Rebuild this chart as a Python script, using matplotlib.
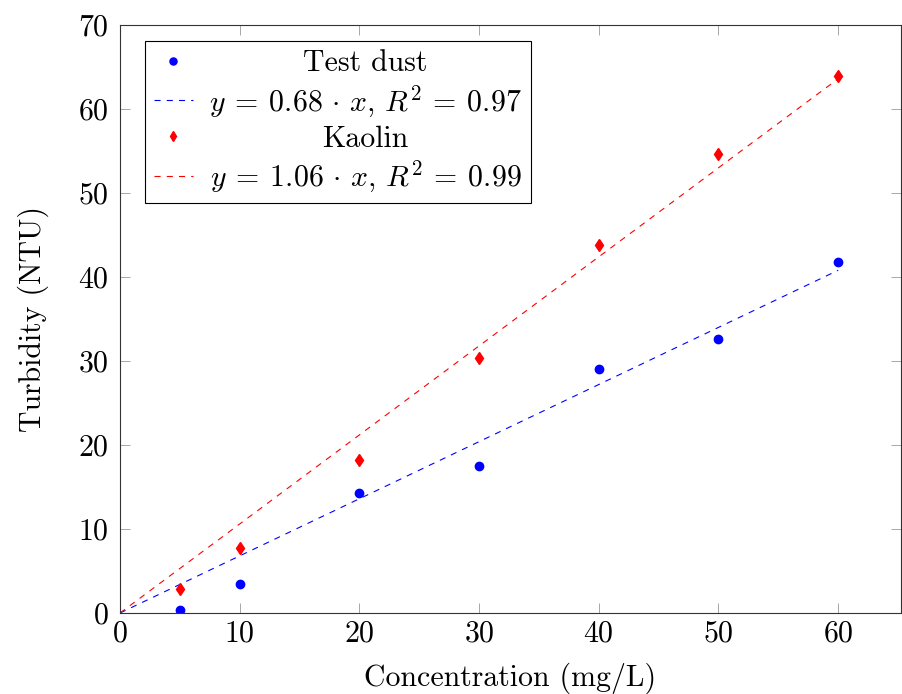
import matplotlib
matplotlib.use('Agg')
import matplotlib.pyplot as plt
from matplotlib.transforms import IdentityTransform
import numpy as np

plt.rcParams['font.family'] = 'serif'
plt.rcParams['font.serif'] = ['cmr10']
plt.rcParams['mathtext.fontset'] = 'cm'
plt.rcParams['axes.formatter.use_mathtext'] = True
plt.rcParams['font.size'] = 21.5

# measured points
conc = [5, 10, 20, 30, 40, 50, 60]
test_dust = [0.35, 3.4, 14.3, 17.5, 29.1, 32.6, 41.8]
kaolin = [2.8, 7.7, 18.2, 30.3, 43.8, 54.6, 63.9]

# linear fits through origin
fit_x = [0, 60]
slope_dust = 0.68
slope_kaolin = 1.06
label_dust = r'$y\:=\:0.68\,\cdot\,x$, $R^2\,=\:0.97$'
label_kaolin = r'$y\:=\:1.06\,\cdot\,x$, $R^2\,=\:0.99$'

fig = plt.figure(figsize=(9.03, 6.94), dpi=100)
ax = fig.add_axes([120/903, 81/694, 781/903, 588/694])

fx = np.array(fit_x)
dash = (0, (5.5, 5.5))
ax.plot(conc, test_dust, 'o', color='blue', ms=6, ls='none', label='Test dust')
ax.plot(fx, slope_dust*fx, color='blue', lw=0.8, ls=dash, label=label_dust)
ax.plot(conc, kaolin, 'd', color='red', ms=6.5, ls='none', label='Kaolin')
ax.plot(fx, slope_kaolin*fx, color='red', lw=0.8, ls=dash, label=label_kaolin)

ax.set_xlim(0, 65.25)
ax.set_ylim(0, 70)
ax.set_xticks([0, 10, 20, 30, 40, 50, 60])
ax.set_yticks(range(0, 71, 10))
ax.tick_params(direction='in', top=True, right=True, length=7, width=0.6,
               color='#999999')
ax.tick_params(axis='x', pad=5)
ax.tick_params(axis='y', pad=8)
for s in ax.spines.values():
    s.set_linewidth(0.8)
    s.set_color('#333333')
ax.set_xlabel('Concentration (mg/L)', labelpad=11)
ax.set_ylabel('Turbidity (NTU)', labelpad=21)

leg = ax.legend(loc='upper left', bbox_to_anchor=(0.032, 0.973), borderaxespad=0,
                fancybox=False, edgecolor='black', framealpha=1, handlelength=1.3,
                labelspacing=0.2, borderpad=0.3, handletextpad=0.55, markerscale=0.85)
leg.get_frame().set_linewidth(0.8)

# centre legend texts like pgfplots: hide originals, redraw centred
fig.canvas.draw()
renderer = fig.canvas.get_renderer()
boxes = [t.get_window_extent(renderer) for t in leg.get_texts()]
left = min(b.x0 for b in boxes)
right = max(b.x1 for b in boxes)
xc = (left + right) / 2
for t in leg.get_texts():
    bx, by = t.get_transform().transform(t.get_position())
    fig.text(xc, by, t.get_text(), ha='center', va='baseline',
             transform=IdentityTransform(), fontsize=t.get_fontsize(), zorder=10)
    t.set_visible(False)

fig.savefig('out.png', dpi=100)
